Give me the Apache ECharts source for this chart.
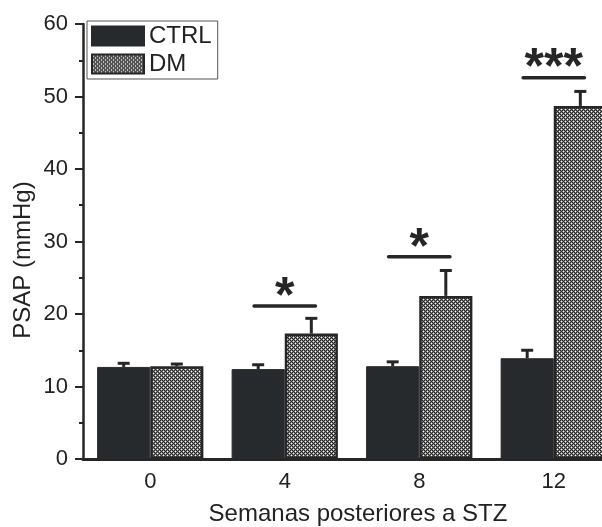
<!DOCTYPE html>
<html><head><meta charset="utf-8">
<script src="https://cdn.jsdelivr.net/npm/echarts@6/dist/echarts.min.js"></script>
<style>html,body{margin:0;padding:0;background:#fff}#c{width:602px;height:527px}</style>
</head><body><div id="c"></div>
<script>
const categories = ['0', '4', '8', '12'];
const ctrlValues = [12.7, 12.4, 12.8, 13.9];
const ctrlErrTop = [13.2, 13.0, 13.4, 15.0];
const dmValues = [12.8, 17.3, 22.5, 48.7];
const dmErrTop = [13.1, 19.4, 26.0, 50.7];
const sigCategoryIdx = [1, 2, 3];
const sigLevels = [21.1, 27.9, 52.6];
const sigLabels = ['*', '*', '***'];

const DARK = '#272a2c';
const FONT = 'Liberation Sans, Arial, Helvetica, sans-serif';

// checker pattern for DM
const pc = document.createElement('canvas');
pc.width = 4; pc.height = 4;
const g = pc.getContext('2d');
g.fillStyle = '#262626'; g.fillRect(0, 0, 4, 4);
g.fillStyle = '#808080';
[[0,1],[2,1],[1,0],[1,2],[2,3],[0,3],[3,2],[3,0]].forEach(p => g.fillRect(p[0], p[1], 1, 1));
g.fillStyle = '#ffffff';
g.fillRect(1, 1, 1, 1); g.fillRect(3, 3, 1, 1);

const CAT_GAP = 0.21;

function errRender(sign) {
  return function (params, api) {
    const ci = api.value(0);
    const top = api.coord([ci, api.value(1)]);
    const base = api.coord([ci, api.value(2)]);
    const bw = api.size([1, 0])[0] * (1 - CAT_GAP) / 2;
    const x = top[0] + sign * bw / 2;
    return {
      type: 'group', children: [
        { type: 'line', shape: { x1: x, y1: base[1], x2: x, y2: top[1] }, style: { stroke: '#262626', lineWidth: 3 } },
        { type: 'line', shape: { x1: x - 6, y1: top[1], x2: x + 6, y2: top[1] }, style: { stroke: '#262626', lineWidth: 3 } }
      ]
    };
  };
}

function sigRender(params, api) {
  const ci = api.value(0);
  const p = api.coord([ci, api.value(1)]);
  const half = api.size([1, 0])[0] * 0.228;
  return {
    type: 'group', children: [
      { type: 'line', shape: { x1: p[0] - half, y1: p[1], x2: p[0] + half, y2: p[1] }, style: { stroke: '#262626', lineWidth: 3.5, lineCap: 'round' } },
      { type: 'text', x: p[0], y: p[1] - 8, style: { text: sigLabels[params.dataIndex], fill: '#262626', font: 'bold 50px ' + FONT, align: 'center', verticalAlign: 'middle' } }
    ]
  };
}

const chart = echarts.init(document.getElementById('c'), null, { renderer: 'canvas' });
chart.setOption({
  animation: false,
  backgroundColor: '#fff',
  textStyle: { fontFamily: FONT },
  grid: { left: 83, top: 24, width: 538, bottom: 68, containLabel: false, outerBoundsMode: 'none' },
  legend: {
    data: ['CTRL', 'DM'], orient: 'vertical', left: 87, top: 21,
    itemWidth: 52, itemHeight: 19, itemGap: 4, icon: 'rect',
    borderColor: '#555', borderWidth: 1, padding: [3, 6, 3, 4],
    textStyle: { fontSize: 24, color: '#222', fontFamily: FONT }
  },
  xAxis: {
    type: 'category', data: categories,
    name: 'Semanas posteriores a STZ', nameLocation: 'middle', nameGap: 43,
    nameTextStyle: { fontSize: 24, color: '#222', fontFamily: FONT, padding: [0, 0, 0, 12] },
    axisLine: { lineStyle: { color: '#262626', width: 3 } },
    axisTick: { show: false },
    axisLabel: { fontSize: 22, color: '#222', margin: 12, fontFamily: FONT }
  },
  yAxis: {
    type: 'value', min: 0, max: 60, interval: 10,
    axisLine: { show: true, lineStyle: { color: '#262626', width: 2.5 } },
    axisTick: { show: true, length: 8, lineStyle: { width: 2, color: '#262626' } },
    minorTick: { show: true, splitNumber: 2, length: 4, lineStyle: { width: 2, color: '#262626' } },
    splitLine: { show: false },
    axisLabel: { fontSize: 22, color: '#222', margin: 15, fontFamily: FONT }
  },
  graphic: [{
    type: 'text', x: 23, y: 260, rotation: Math.PI / 2,
    style: { text: 'PSAP (mmHg)', fill: '#222', font: '24px ' + FONT, align: 'center', verticalAlign: 'middle' }
  }],
  series: [
    { name: 'CTRL', type: 'bar', data: ctrlValues, barGap: '0%', barCategoryGap: (CAT_GAP * 100) + '%',
      itemStyle: { color: DARK, borderColor: DARK, borderWidth: 1 } },
    { name: 'DM', type: 'bar', data: dmValues,
      itemStyle: { color: { image: pc, repeat: 'repeat' }, borderColor: '#262626', borderWidth: 2.5 } },
    { name: 'errCtrl', type: 'custom', renderItem: errRender(-1), z: 3,
      encode: { x: 0, y: 1 }, data: categories.map((c, i) => [i, ctrlErrTop[i], ctrlValues[i]]) },
    { name: 'errDm', type: 'custom', renderItem: errRender(1), z: 3,
      encode: { x: 0, y: 1 }, data: categories.map((c, i) => [i, dmErrTop[i], dmValues[i]]) },
    { name: 'sig', type: 'custom', renderItem: sigRender, z: 4,
      encode: { x: 0, y: 1 }, data: sigCategoryIdx.map((ci, k) => [ci, sigLevels[k]]) }
  ]
});
</script>
</body></html>
